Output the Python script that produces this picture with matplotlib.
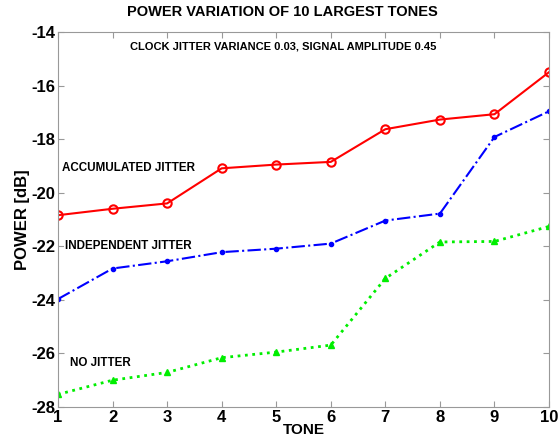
import numpy as np
import matplotlib.pyplot as plt

plt.rcParams['font.family'] = ['Liberation Sans', 'DejaVu Sans']
plt.rcParams['font.weight'] = 'bold'
plt.rcParams['axes.unicode_minus'] = False

tones = np.arange(1, 11)
accumulated = [-20.84, -20.6, -20.4, -19.09, -18.95, -18.85, -17.63, -17.27, -17.07, -15.5]
independent = [-23.97, -22.83, -22.56, -22.22, -22.09, -21.9, -21.04, -20.78, -17.92, -16.96]
no_jitter = [-27.53, -27.0, -26.71, -26.16, -25.95, -25.69, -23.2, -21.84, -21.82, -21.26]

fig = plt.figure(figsize=(5.6, 4.38), dpi=100)
ax = fig.add_axes([0.1036, 0.0708, 0.8768, 0.8562])

ax.plot(tones, accumulated, color='red', linestyle='-', marker='o', markersize=6,
        markerfacecolor='none', markeredgewidth=1.5, linewidth=1.5)
ax.plot(tones, independent, color='blue', linestyle='-.', marker='.', markersize=6,
        linewidth=1.5)
ax.plot(tones, no_jitter, color='#00ee00', linestyle=':', marker='^', markersize=5,
        linewidth=2)

ax.set_xlim(1, 10)
ax.set_ylim(-28, -14)
ax.set_xticks(tones)
ax.set_yticks(np.arange(-28, -13, 2))
ax.tick_params(direction='in', top=True, right=True, length=4, color='#999999',
               labelsize=12, pad=2)
for lbl in ax.get_xticklabels() + ax.get_yticklabels():
    lbl.set_fontweight('bold')
for s in ax.spines.values():
    s.set_color('#999999')

fig.text(0.505, 0.972, 'POWER VARIATION OF 10 LARGEST TONES', fontsize=10.5,
         fontweight='bold', ha='center', va='center')
ax.set_xlabel('TONE', fontsize=11, fontweight='bold', labelpad=-1)
ax.set_ylabel('POWER [dB]', fontsize=12, fontweight='bold', labelpad=1)

ax.text(5.12, -14.55, 'CLOCK JITTER VARIANCE 0.03, SIGNAL AMPLITUDE 0.45',
        fontsize=8, fontweight='bold', ha='center', va='center')
ax.text(1.07, -19.07, 'ACCUMULATED JITTER', fontsize=8.4, fontweight='bold', va='center')
ax.text(1.12, -22.0, 'INDEPENDENT JITTER', fontsize=8.4, fontweight='bold', va='center',
        bbox=dict(facecolor='white', edgecolor='none', pad=0.5))
ax.text(1.22, -26.35, 'NO JITTER', fontsize=8.4, fontweight='bold', va='center')

fig.savefig('out.png', dpi=100)
